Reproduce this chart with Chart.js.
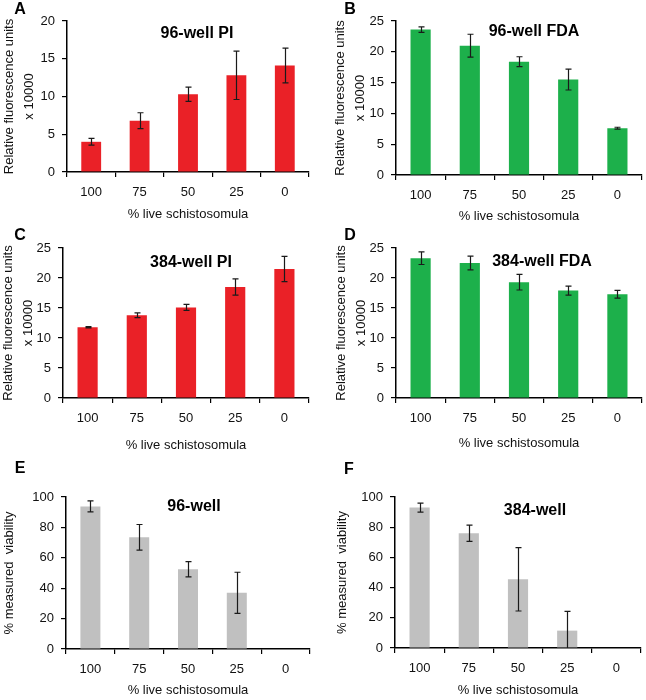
<!DOCTYPE html>
<html>
<head>
<meta charset="utf-8">
<script src="https://cdn.jsdelivr.net/npm/chart.js@4.4.1/dist/chart.umd.min.js"></script>
<style>
  body { margin: 0; background: #fff; }
  #wrap { position: relative; width: 646px; height: 700px; overflow: hidden; font-family: "Liberation Sans", Arial, sans-serif; }
  #wrap canvas { position: absolute; }
  .lbl { position: absolute; transform: translate(-50%, -50%); font-weight: bold; white-space: nowrap; color: #000; }
  .letter { font-size: 16px; }
  .ttl { font-size: 16px; }
</style>
</head>
<body>
<div id="wrap"></div>
<script>
// categories and values
const categories = ["100", "75", "50", "25", "0"];

const pi96 = [4.0, 6.8, 10.3, 12.8, 14.1];
const pi96Err = [0.45, 1.05, 0.95, 3.2, 2.3];
const fda96 = [23.6, 21.0, 18.4, 15.5, 7.6];
const fda96Err = [0.45, 1.85, 0.8, 1.7, 0.15];
const pi384 = [11.8, 13.8, 15.1, 18.5, 21.5];
const pi384Err = [0.1, 0.4, 0.5, 1.35, 2.1];
const fda384 = [23.3, 22.5, 19.3, 17.9, 17.3];
const fda384Err = [1.05, 1.15, 1.3, 0.75, 0.65];
const via96 = [93.8, 73.5, 52.5, 37.0, 0];
const via96Err = [3.6, 8.4, 5.0, 13.5, 0];
const via384 = [93.0, 76.0, 45.5, 11.5, 0];
const via384Err = [3.0, 5.4, 21.0, 12.8, 0];

const rfuTitle = ["Relative fluorescence units", "x 10000"];
const viaTitle = "% measured  viability";
const xTitle = "% live schistosomula";

const RED = "#EA2127";
const GREEN = "#1DB04B";
const GREY = "#C0C0C0";
const FONT = "'Liberation Sans', Arial, sans-serif";

// draws the error bars through the y scale
const errorBars = {
  id: "errorBars",
  afterDatasetsDraw(chart, args, opts) {
    const { ctx, chartArea } = chart;
    const y = chart.scales.y;
    const vals = chart.data.datasets[0].data;
    const errs = opts.errors || [];
    const meta = chart.getDatasetMeta(0);
    ctx.save();
    ctx.beginPath();
    ctx.rect(chartArea.left, chartArea.top - 20, chartArea.width, chartArea.height + 20);
    ctx.clip();
    ctx.strokeStyle = "#1a1a1a";
    ctx.lineWidth = 1.2;
    meta.data.forEach((bar, i) => {
      const e = errs[i];
      if (!e) return;
      const hi = y.getPixelForValue(vals[i] + e);
      const lo = y.getPixelForValue(vals[i] - e);
      const x = Math.round(bar.x) + 0.5;
      ctx.beginPath();
      ctx.moveTo(x, hi); ctx.lineTo(x, lo);
      ctx.moveTo(x - 3, hi); ctx.lineTo(x + 3, hi);
      ctx.moveTo(x - 3, lo); ctx.lineTo(x + 3, lo);
      ctx.stroke();
    });
    ctx.restore();
  }
};

const panels = [
  { letter: "A", title: "96-well PI", data: pi96, err: pi96Err, color: RED, max: 20, step: 5, yTitle: rfuTitle,
    box: [0, 0, 323, 224], axisX: 67, plotTop: 21, plotBottom: 172, plotRight: 309, xTitleY: 214, yTitleX: 9,
    letterPos: [20, 9], titlePos: [197, 33] },
  { letter: "B", title: "96-well FDA", data: fda96, err: fda96Err, color: GREEN, max: 25, step: 5, yTitle: rfuTitle,
    box: [323, 0, 323, 224], axisX: 396, plotTop: 21, plotBottom: 175, plotRight: 642, xTitleY: 216, yTitleX: 340,
    letterPos: [350, 9], titlePos: [534, 31] },
  { letter: "C", title: "384-well PI", data: pi384, err: pi384Err, color: RED, max: 25, step: 5, yTitle: rfuTitle,
    box: [0, 224, 323, 230], axisX: 63, plotTop: 248, plotBottom: 398, plotRight: 309, xTitleY: 445, yTitleX: 8,
    letterPos: [20, 235], titlePos: [191, 262] },
  { letter: "D", title: "384-well FDA", data: fda384, err: fda384Err, color: GREEN, max: 25, step: 5, yTitle: rfuTitle,
    box: [323, 224, 323, 230], axisX: 396, plotTop: 248, plotBottom: 398, plotRight: 642, xTitleY: 443, yTitleX: 341,
    letterPos: [350, 235], titlePos: [542, 261] },
  { letter: "E", title: "96-well", data: via96, err: via96Err, color: GREY, max: 100, step: 20, yTitle: viaTitle,
    box: [0, 450, 323, 250], axisX: 66, plotTop: 497, plotBottom: 649, plotRight: 310, xTitleY: 690, yTitleX: 9,
    letterPos: [20, 468], titlePos: [194, 506] },
  { letter: "F", title: "384-well", data: via384, err: via384Err, color: GREY, max: 100, step: 20, yTitle: viaTitle,
    box: [323, 450, 323, 250], axisX: 395, plotTop: 497, plotBottom: 648, plotRight: 641, xTitleY: 690, yTitleX: 342,
    letterPos: [349, 469], titlePos: [535, 510] }
];

const wrap = document.getElementById("wrap");

panels.forEach(function (p) {
  const [left, top, w, h] = p.box;
  const canvas = document.createElement("canvas");
  canvas.width = w;
  canvas.height = h;
  canvas.style.left = left + "px";
  canvas.style.top = top + "px";
  canvas.style.width = w + "px";
  canvas.style.height = h + "px";
  wrap.appendChild(canvas);

  const yLh = 20;
  const xLh = 16;

  new Chart(canvas.getContext("2d"), {
    type: "bar",
    data: {
      labels: categories,
      datasets: [
        {
          data: p.data,
          backgroundColor: p.color,
          borderWidth: 0,
          categoryPercentage: 1,
          barPercentage: 0.41
        }
      ]
    },
    options: {
      responsive: false,
      animation: false,
      layout: {
        padding: { left: 0, top: p.plotTop - top, right: left + w - p.plotRight, bottom: 0 }
      },
      plugins: {
        legend: { display: false },
        tooltip: { enabled: false },
        errorBars: { errors: p.err }
      },
      scales: {
        x: {
          afterFit: function (s) { s.height = top + h - p.plotBottom; },
          grid: { display: true, drawOnChartArea: false, color: "#000", lineWidth: 1.2, tickLength: 5, offset: true },
          border: { display: true, color: "#000", width: 1.5 },
          ticks: { color: "#111", padding: 8, font: { family: FONT, size: 13 } },
          title: {
            display: true, text: xTitle, color: "#111",
            font: { family: FONT, size: 13, lineHeight: xLh + "px" },
            padding: { top: 0, bottom: top + h - p.xTitleY - xLh / 2 }
          }
        },
        y: {
          min: 0,
          max: p.max,
          afterFit: function (s) { s.width = p.axisX - left; },
          grid: { display: true, drawOnChartArea: false, color: "#000", lineWidth: 1.2, tickLength: 5 },
          border: { display: true, color: "#000", width: 1.5 },
          ticks: { stepSize: p.step, color: "#111", padding: 7, font: { family: FONT, size: 13 } },
          title: {
            display: true, text: p.yTitle, color: "#111",
            font: { family: FONT, size: 13, lineHeight: yLh + "px" },
            padding: { top: p.yTitleX - left - yLh / 2, bottom: 0 }
          }
        }
      }
    },
    plugins: [errorBars]
  });

  const letter = document.createElement("div");
  letter.className = "lbl letter";
  letter.textContent = p.letter;
  letter.style.left = p.letterPos[0] + "px";
  letter.style.top = p.letterPos[1] + "px";
  wrap.appendChild(letter);

  const ttl = document.createElement("div");
  ttl.className = "lbl ttl";
  ttl.textContent = p.title;
  ttl.style.left = p.titlePos[0] + "px";
  ttl.style.top = p.titlePos[1] + "px";
  wrap.appendChild(ttl);
});
</script>
</body>
</html>
